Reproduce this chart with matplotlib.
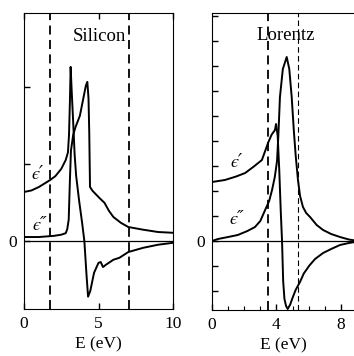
import numpy as np
import matplotlib
matplotlib.use('Agg')
import matplotlib.pyplot as plt

plt.rcParams['font.family'] = 'Liberation Serif'

# silicon, values (eps units)
si_e1_E = [0, 0.5, 1.0, 1.75, 2.1, 2.5, 2.8, 2.95, 3.02, 3.08, 3.13, 3.2, 3.3, 3.4, 3.5, 3.7, 3.9, 4.05,
           4.2, 4.3, 4.45, 4.7, 5.0, 5.15, 5.3, 5.5, 6.0, 6.4, 7.0, 8.0, 9.0, 10.0]
si_e1 = [12.7, 13.1, 14.0, 15.8, 16.8, 18.7, 21.0, 23.0, 27.5, 36.0, 45.2, 39.0, 30.9, 22.3, 16.9, 10.4, 4.7, 0.0,
         -9.1, -14.5, -13.0, -8.3, -5.7, -5.5, -6.8, -6.2, -4.9, -4.4, -2.9, -1.8, -1.0, -0.5]

si_e2_E = [0, 1.0, 2.0, 2.5, 2.8, 2.9, 3.0, 3.08, 3.15, 3.3, 3.45, 3.56, 3.75, 3.95, 4.15, 4.25,
           4.33, 4.38, 4.43, 4.6, 4.85, 5.1, 5.4, 5.7, 6.0, 6.5, 7.0, 8.0, 9.0, 10.0]
si_e2 = [1.0, 1.0, 1.3, 1.6, 2.0, 3.0, 5.5, 15.6, 23.4, 27.5, 29.5, 30.6, 32.5, 36.4, 40.3, 41.3,
         37.0, 28.0, 14.0, 13.0, 12.0, 11.0, 9.9, 7.8, 6.2, 4.7, 3.6, 2.9, 2.3, 2.1]

si_dash = [1.75, 7.05]

# lorentz oscillator, values (arb. units)
lo_e1_E = [0, 0.8, 1.5, 2.06, 2.6, 3.1, 3.48, 3.7, 3.91, 3.98, 4.08, 4.18, 4.27, 4.35, 4.42, 4.5,
           4.6, 4.7, 4.85, 5.0, 5.2, 5.45, 5.7, 6.05, 6.4, 6.9, 7.4, 7.95, 8.5, 8.9]
lo_e1 = [2.36, 2.44, 2.58, 2.72, 2.98, 3.24, 3.92, 4.25, 4.44, 4.68, 4.2, 2.8, 1.2, 0.0, -1.6, -2.32,
         -2.6, -2.72, -2.55, -2.28, -1.95, -1.66, -1.3, -0.98, -0.72, -0.48, -0.32, -0.16, -0.08, -0.04]

lo_e2_E = [0, 0.37, 1.0, 1.6, 2.2, 2.67, 3.0, 3.3, 3.55, 3.73, 3.9, 4.04, 4.12, 4.22, 4.4, 4.64,
           4.8, 4.95, 5.08, 5.2, 5.34, 5.47, 5.65, 5.85, 6.09, 6.5, 6.9, 7.4, 7.95, 8.5, 8.9]
lo_e2 = [0.0, 0.08, 0.16, 0.24, 0.4, 0.56, 0.8, 1.24, 1.6, 2.04, 2.56, 3.2, 4.2, 5.76, 6.88, 7.36,
         6.88, 5.76, 4.44, 3.4, 2.44, 1.8, 1.36, 1.12, 0.96, 0.64, 0.44, 0.28, 0.16, 0.06, 0.02]

lo_dash = [3.45, 5.35]

fig = plt.figure(figsize=(3.54, 3.56), dpi=100)
ax1 = fig.add_axes([24 / 354, 47 / 356, 149 / 354, 296 / 356])
ax2 = fig.add_axes([212 / 354, 46 / 356, 143 / 354, 297 / 356])

fs = 12.5
eps_font = ['STIXGeneral', 'DejaVu Serif']

# left panel
ax1.plot(si_e1_E, si_e1, color='k', lw=1.4)
ax1.plot(si_e2_E, si_e2, color='k', lw=1.4)
ax1.axhline(0, color='k', lw=0.9)
for x in si_dash:
    ax1.axvline(x, color='k', lw=1.3, dashes=(5, 3))
ax1.set_xlim(0, 10)
ax1.set_ylim(-17.7, 59.2)
ax1.set_xticks([0, 5, 10])
ax1.set_yticks([0, 20, 40])
ax1.set_yticklabels(['0', '', ''])
ax1.tick_params(direction='in', labelsize=fs, length=4, width=1, top=True, pad=5)
ax1.set_xlabel('E (eV)', fontsize=fs, labelpad=3)
ax1.text(5.03, 53.2, 'Silicon', fontsize=13.5, ha='center', va='center')
ax1.text(0.94, 17.2, '\u03f5\u2032', fontsize=13, ha='center', va='center', family=eps_font, style='italic')
ax1.text(1.07, 3.9, '\u03f5\u2033', fontsize=13, ha='center', va='center', family=eps_font, style='italic')

# right panel
ax2.plot(lo_e1_E, lo_e1, color='k', lw=1.4)
ax2.plot(lo_e2_E, lo_e2, color='k', lw=1.4)
ax2.axhline(0, color='k', lw=0.9)
ax2.axvline(lo_dash[0], color='k', lw=1.3, dashes=(5, 3))
ax2.axvline(lo_dash[1], color='k', lw=0.8, dashes=(5, 3))
ax2.set_xlim(0, 143 / 16.1)
ax2.set_ylim(-2.76, 9.12)
ax2.set_xticks([0, 4, 8])
ax2.set_xticks(np.arange(0, 9), minor=True)
ax2.set_yticks(np.arange(-2, 10))
ax2.set_yticklabels(['0' if v == 0 else '' for v in np.arange(-2, 10)])
ax2.tick_params(direction='in', labelsize=fs, length=4, width=1, pad=5)
ax2.tick_params(which='minor', direction='in', length=3, width=0.8)
ax2.spines['right'].set_visible(False)
ax2.set_xlabel('E (eV)', fontsize=fs, labelpad=3)
ax2.text(4.6, 8.24, 'Lorentz', fontsize=13.5, ha='center', va='center')
ax2.text(1.55, 3.15, '\u03f5\u2032', fontsize=13, ha='center', va='center', family=eps_font, style='italic')
ax2.text(1.55, 0.85, '\u03f5\u2033', fontsize=13, ha='center', va='center', family=eps_font, style='italic')

fig.savefig('out.png', dpi=100)
